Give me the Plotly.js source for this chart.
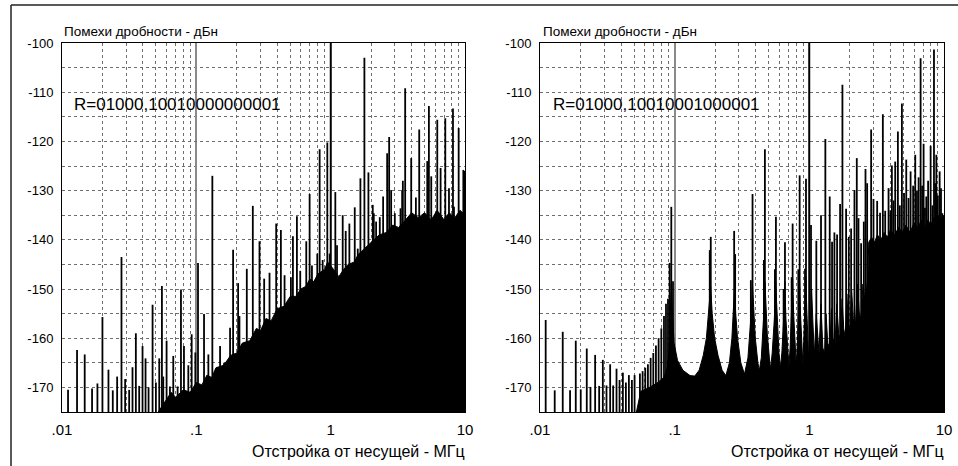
<!DOCTYPE html>
<html><head><meta charset="utf-8">
<script src="https://cdn.plot.ly/plotly-3.0.1.min.js"></script>
<style>html,body{margin:0;padding:0;background:#fff}#chart{width:958px;height:466px}</style>
</head><body><div id="chart"></div>
<script>
const Y_MIN = -175, Y_MAX = -100;
const xTickVals = [0.01, 0.1, 1, 10];
const xTickText = ['.01', '.1', '1', '10'];
const yTickVals = [-170, -160, -150, -140, -130, -120, -110, -100];
const yTickText = ['-170', '-160', '-150', '-140', '-130', '-120', '-110', '-100'];
const yTitleText = 'Помехи дробности - дБн';
const xTitleText = 'Отстройка от несущей - МГц';
const leftLabel = 'R=01000,10010000000001';
const rightLabel = 'R=01000,10010001000001';

// Left panel: discrete spurs (MHz, dBc)
const leftSpurF = [0.01109,0.01294,0.01476,0.01674,0.01835,0.0200,0.02217,0.02388,0.02573,0.02772,0.02952,0.03162,0.03349,0.03546,0.03755,0.03976,0.04187,0.04409,0.04723,0.0500,0.05296,0.05544,0.05673,0.06006,0.06361,0.06735,0.07256,0.07684,0.08091,0.08717,0.09231,0.09829,0.1029,0.1141,0.1229,0.1316,0.1402,0.1502,0.1609,0.1783,0.1878,0.2047,0.2094,0.2375,0.2633,0.2952,0.3199,0.3506,0.3931,0.4260,0.4537,0.5058,0.5236,0.5607,0.5936,0.6582,0.6971,0.7256,0.795,0.8279,0.8717,0.9443,0.9829,1.0,1.083,1.115,1.229,1.294,1.324,1.378,1.511,1.591,1.665,1.783,1.910,2.058,2.094,2.179,2.321,2.458,2.633,2.725,2.820,3.003,3.311,3.406,3.446,3.586,3.977,4.116,4.309,4.562,5.236,5.386,5.607,6.217,6.582,7.133,7.598,8.136,8.279,8.970,9.718,9.95];
const leftSpurV = [-170.5,-162.4,-163.3,-170.2,-169.2,-155.7,-166.4,-170.6,-167.8,-143.5,-168.3,-170.5,-165.9,-159.0,-169.7,-161.6,-164.1,-170.0,-153.2,-169.0,-164.1,-149.4,-167.8,-160.5,-169.8,-163.6,-169.8,-150.1,-161.6,-165.5,-159.2,-162.9,-144.7,-155.1,-163.3,-127.0,-166.2,-161.6,-165.0,-157.9,-142.0,-148.8,-155.5,-145.9,-133.1,-140.3,-147.9,-146.7,-136.7,-138.0,-147.2,-147.6,-139.3,-135.2,-146.3,-140.3,-130.7,-145.2,-142.8,-121.6,-144.1,-120.2,-142.8,-100.0,-130.3,-141.1,-135.0,-138.2,-145.5,-136.7,-133.4,-141.8,-127.5,-103.0,-126.3,-132.9,-134.6,-136.3,-135.4,-131.2,-122.4,-119.1,-129.9,-134.6,-133.6,-129.9,-128.0,-109.2,-123.4,-135.6,-131.4,-117.6,-124.0,-112.8,-127.1,-115.6,-125.4,-115.3,-129.5,-113.3,-133.3,-117.3,-125.8,-126.0];
// Left panel: dense spur floor (upper envelope)
const leftFloorF = [0.052,0.06,0.065,0.07,0.08,0.09,0.1,0.11,0.12,0.13,0.14,0.16,0.18,0.2,0.22,0.25,0.28,0.3,0.33,0.36,0.4,0.45,0.5,0.55,0.6,0.65,0.7,0.75,0.8,0.9,0.95,1.05,1.15,1.25,1.35,1.5,1.6,1.75,1.9,2.1,2.3,2.6,2.9,3.2,3.6,4.0,4.5,5.0,5.6,6.2,7.0,7.6,8.4,9.2,10];
const leftFloorV = [-175,-172.5,-171,-172,-170.5,-171,-169,-169.5,-167.5,-168,-166,-165.5,-163.5,-163,-161,-160.5,-158,-158.5,-156,-156.5,-154,-153.5,-151.5,-151.5,-150,-149.5,-148,-148.5,-147,-146,-144.5,-146,-147.5,-146,-145,-144.5,-143,-142,-141,-140,-139,-138.5,-137,-137.5,-136,-134.5,-135.5,-134.5,-136,-134,-136,-134.5,-135.5,-134,-135];

// Right panel: discrete spurs
const rightSpurF = [0.01102,0.01286,0.01475,0.01672,0.01843,0.02007,0.02225,0.02370,0.02567,0.02750,0.02928,0.03117,0.03319,0.03494,0.03700,0.03896,0.04125,0.04342,0.04571,0.04813,0.05039,0.0552,0.0578,0.0605,0.0633,0.0663,0.0694,0.0726,0.0760,0.0796,0.0833,0.0862,0.0892,0.0918,0.0944,0.0972,0.1822,0.1854,0.2765,0.2813,0.3679,0.3786,0.4598,0.4677,0.5552,0.5648,0.6442,0.6592,0.7387,0.7514,0.8282,0.8472,0.9284,0.9445,1.0,1.029,1.127,1.221,1.315,1.417,1.475,1.535,1.607,1.692,1.761,1.875,1.963,2.043,2.163,2.251,2.317,2.424,2.538,2.612,2.688,2.877,2.995,3.189,3.35,3.515,3.659,3.874,4.0,4.102,4.22,4.342,4.546,4.7,4.868,5.05,5.244,5.45,5.648,5.9,6.118,6.3,6.478,6.704,6.88,7.057,7.22,7.388,7.62,7.957,8.2,8.425,8.6,8.770,9.0,9.284,9.5,9.719];
const rightSpurV = [-156.3,-170.6,-158.7,-170.6,-160.5,-170.4,-162.1,-169.9,-163.4,-169.7,-164.4,-169.6,-165.3,-169.6,-166.2,-168.5,-167.0,-169.0,-167.5,-168.5,-167.5,-167.2,-166.7,-166.0,-165.3,-164.0,-163.0,-161.5,-160.0,-158.0,-155.5,-153.0,-152.0,-144.7,-133.3,-148.4,-142.1,-139.4,-138.2,-142.9,-148.2,-130.7,-144.1,-121.6,-146.0,-135.3,-150.0,-140.5,-147.6,-136.7,-146.0,-126.9,-145.9,-127.6,-100.0,-137.0,-140.2,-135.0,-119.5,-131.2,-140.4,-138.5,-138.9,-132.7,-108.5,-133.7,-139.4,-137.7,-129.9,-123.4,-135.6,-140.7,-136.3,-125.6,-128.5,-117.6,-131.7,-132.1,-134.5,-114.5,-134.1,-129.5,-134.0,-124.9,-132.0,-124.1,-118.0,-133.0,-112.3,-130.5,-123.7,-131.5,-126.1,-129.0,-122.7,-130.0,-127.3,-103.1,-129.0,-120.5,-133.5,-131.2,-128.0,-120.9,-133.0,-101.3,-128.5,-122.7,-131.0,-126.1,-129.5,-134.6];
// Right panel: dense spur floor (upper envelope, with humps)
const rightFloorF = [0.052,0.056,0.065,0.075,0.083,0.088,0.091,0.093,0.0944,0.096,0.099,0.105,0.115,0.13,0.141,0.152,0.163,0.172,0.179,0.185,0.19,0.198,0.21,0.225,0.24,0.255,0.266,0.273,0.278,0.284,0.293,0.31,0.33,0.35,0.362,0.372,0.378,0.385,0.397,0.415,0.425,0.44,0.455,0.463,0.468,0.475,0.487,0.505,0.515,0.53,0.55,0.562,0.575,0.595,0.61,0.625,0.645,0.657,0.67,0.69,0.705,0.72,0.74,0.751,0.765,0.785,0.8,0.815,0.835,0.846,0.86,0.88,0.895,0.91,0.932,0.943,0.957,0.975,0.99,1.01,1.04,1.06,1.09,1.125,1.15,1.18,1.22,1.26,1.3,1.33,1.37,1.42,1.46,1.5,1.55,1.6,1.65,1.7,1.75,1.8,1.85,1.9,1.95,2.0,2.06,2.12,2.2,2.28,2.35,2.42,2.5,2.58,2.66,2.72,2.76,2.9,3.05,3.2,3.4,3.6,3.8,4.0,4.3,4.6,4.9,5.2,5.6,6.0,6.4,6.8,7.2,7.6,8.0,8.4,8.8,9.2,9.6,10];
const rightFloorV = [-175,-170.8,-170,-169,-168,-166,-162,-155,-149,-154,-161,-164.5,-166.5,-167.6,-167.7,-166.5,-163.5,-160,-155,-149.5,-155,-160,-163.5,-166.5,-167.6,-165,-160,-155,-150,-155,-160,-165,-167.3,-164,-159,-154,-149,-154,-160,-165,-166.6,-164,-158,-153,-148.5,-153,-159,-164,-166.3,-163,-156,-148.5,-156,-163,-166,-163,-156,-148.5,-156,-163,-165.8,-162,-154,-148,-155,-162,-165.6,-161,-153,-148,-155,-162,-165.4,-160,-152,-147.5,-154,-161,-165,-160,-150,-156,-163.5,-155,-160,-163,-153,-162,-163,-155,-161,-162,-154,-160,-161.5,-153,-159,-160.5,-152,-158,-160,-151,-157,-158.5,-150,-156,-157,-149,-155,-156,-149,-152,-150,-148,-140.5,-139.5,-140.5,-139,-140,-138.5,-139.5,-138,-139,-137.5,-138.5,-137,-138.5,-136.5,-137.5,-136,-137.5,-136,-137,-135.5,-136.5,-135,-136,-135];

function spikeTrace(F, V, xa, ya) {
  const x = [], y = [];
  F.forEach((f, i) => { x.push(f, f, null); y.push(Y_MIN, V[i], null); });
  return {x, y, xaxis: xa, yaxis: ya, type: 'scatter', mode: 'lines',
    line: {color: '#000', width: 1.8}, hoverinfo: 'skip', showlegend: false};
}
function floorTrace(F, V, xa, ya) {
  return {x: [F[0], ...F, F[F.length - 1]], y: [Y_MIN, ...V, Y_MIN],
    xaxis: xa, yaxis: ya, type: 'scatter', mode: 'lines', fill: 'toself',
    fillcolor: '#000', line: {color: '#000', width: 1}, hoverinfo: 'skip', showlegend: false};
}

const minorX = [];
[0.01, 0.1, 1].forEach(d => { for (let k = 2; k <= 9; k++) minorX.push(d * k); });

const FONT = 'Arial, "Liberation Sans", sans-serif';
const GRID = '#6e6e6e';
function xAxis(dom, anchor) {
  return {type: 'log', range: [-2, 1], domain: dom, anchor: anchor,
    tickmode: 'array', tickvals: xTickVals, ticktext: xTickText,
    showgrid: true, gridcolor: '#8a8a8a', gridwidth: 2,
    minor: {tickmode: 'array', tickvals: minorX, showgrid: true, gridcolor: GRID, griddash: 'dot', gridwidth: 1, ticks: ''},
    showline: true, mirror: true, linecolor: '#000', linewidth: 1, ticks: '',
    zeroline: false, tickfont: {family: FONT, size: 15, color: '#000'}, ticklabelstandoff: 4, fixedrange: true};
}
function yAxis(anchor) {
  return {range: [Y_MIN, Y_MAX], domain: [54 / 466, 423 / 466], anchor: anchor,
    tickmode: 'array', tickvals: yTickVals, ticktext: yTickText,
    showgrid: true, gridcolor: GRID, griddash: 'dot', gridwidth: 1,
    minor: {dtick: 5, tick0: -175, showgrid: true, gridcolor: GRID, griddash: 'dot', gridwidth: 1, ticks: ''},
    showline: true, mirror: true, linecolor: '#000', linewidth: 1, ticks: '',
    zeroline: false, tickfont: {family: FONT, size: 13, color: '#000'}, ticklabelstandoff: 5, fixedrange: true};
}

const traces = [
  floorTrace(leftFloorF, leftFloorV, 'x', 'y'),
  spikeTrace(leftSpurF, leftSpurV, 'x', 'y'),
  floorTrace(rightFloorF, rightFloorV, 'x2', 'y2'),
  spikeTrace(rightSpurF, rightSpurV, 'x2', 'y2')
];

function ann(text, px, py, size, xanchor) {
  return {text: text, xref: 'paper', yref: 'paper', x: px / 958, y: 1 - py / 466,
    xanchor: xanchor, yanchor: 'middle', showarrow: false,
    font: {family: FONT, size: size, color: '#000'}};
}

const layout = {
  width: 958, height: 466, margin: {l: 0, r: 0, t: 0, b: 0},
  paper_bgcolor: '#fff', plot_bgcolor: '#fff', showlegend: false,
  xaxis: xAxis([62 / 958, 465 / 958], 'y'),
  yaxis: yAxis('x'),
  xaxis2: xAxis([540 / 958, 944 / 958], 'y2'),
  yaxis2: yAxis('x2'),
  annotations: [
    ann(yTitleText, 62, 31, 13.5, 'left'),
    ann(yTitleText, 541, 31, 13.5, 'left'),
    ann(leftLabel, 72, 104, 17, 'left'),
    ann(rightLabel, 551, 104, 17, 'left'),
    ann(xTitleText, 467, 451, 16, 'right'),
    ann(xTitleText, 946, 451, 16, 'right')
  ],
  shapes: [
    {type: 'line', xref: 'paper', yref: 'paper', x0: 11 / 958, x1: 1, y0: 1 - 5 / 466, y1: 1 - 5 / 466, line: {color: '#222', width: 1.5}},
    {type: 'line', xref: 'paper', yref: 'paper', x0: 11 / 958, x1: 11 / 958, y0: 0, y1: 1 - 5 / 466, line: {color: '#222', width: 1.5}}
  ]
};

Plotly.newPlot('chart', traces, layout, {staticPlot: true, displayModeBar: false});
</script></body></html>
